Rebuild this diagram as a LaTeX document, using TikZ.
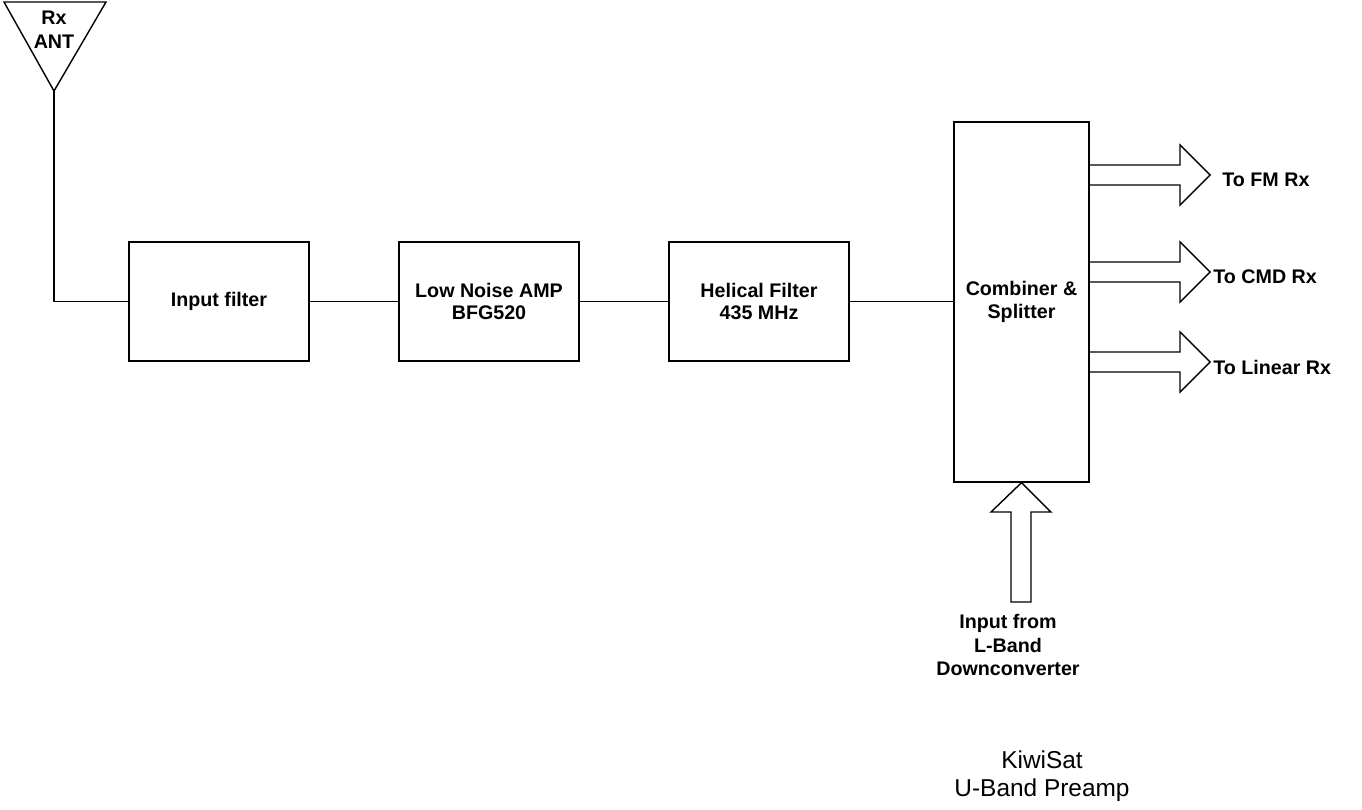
\documentclass[tikz,border=0pt]{standalone}
\usepackage{fontspec}
\setmainfont{Liberation Sans}
\tikzset{
  blk/.style={draw, thick, minimum width=3.6cm, minimum height=2.38cm, align=center,
    font=\bfseries\fontsize{11.2}{13}\selectfont},
  lbl/.style={align=center, font=\bfseries\fontsize{11.2}{13.6}\selectfont}
}
\begin{document}
\begin{tikzpicture}[x=0.02cm,y=-0.02cm]
\useasboundingbox (0,0) rectangle (1362,809);

% antenna
\draw[thick] (4,2) -- (106,2) -- (54,91) coordinate (ant) -- cycle ;
\node[lbl] (antlbl) at (54,30) {Rx\\ANT};

% chain
\node[blk] (infilt) at (219,301.5) {Input filter};
\node[blk] (lna) at (489,301.5) {Low Noise AMP\\BFG520};
\node[blk] (helix) at (759,301.5) {Helical Filter\\435 MHz};
\node[blk, minimum width=2.7cm, minimum height=7.2cm] (comb) at (1021.5,302) {Combiner \&\\Splitter};

\draw[thick] (ant) -- (54,301.5) -- (infilt.west) ;
\draw[thick] (infilt) -- (lna) ;
\draw[thick] (lna) -- (helix) ;
\draw[thick] (helix) -- (helix -| comb.west) ;

% outputs
\foreach \yy/\xx/\txt in {175/1222/To FM Rx, 272/1213/To CMD Rx, 362/1213/To Linear Rx} {
  \draw[thick] (1089,\yy-10) -- (1180,\yy-10) -- (1180,\yy-30) -- (1210,\yy)
    -- (1180,\yy+30) -- (1180,\yy+10) -- (1089,\yy+10) ;
  \node[lbl, anchor=west, inner sep=0pt] at (\xx,\yy+5) {\txt};
}

% input from L-band
\draw[thick] (1011,602) -- (1011,512) -- (991,512) -- (comb.south) -- (1051,512)
  -- (1031,512) -- (1031,602) -- cycle ;
\node[lbl] (lband) at (1008,645) {Input from\\L-Band\\Downconverter};

\node[align=center, font=\fontsize{13.9}{15.9}\selectfont] (title) at (1042,776) {KiwiSat\\U-Band Preamp};
\end{tikzpicture}
\end{document}
